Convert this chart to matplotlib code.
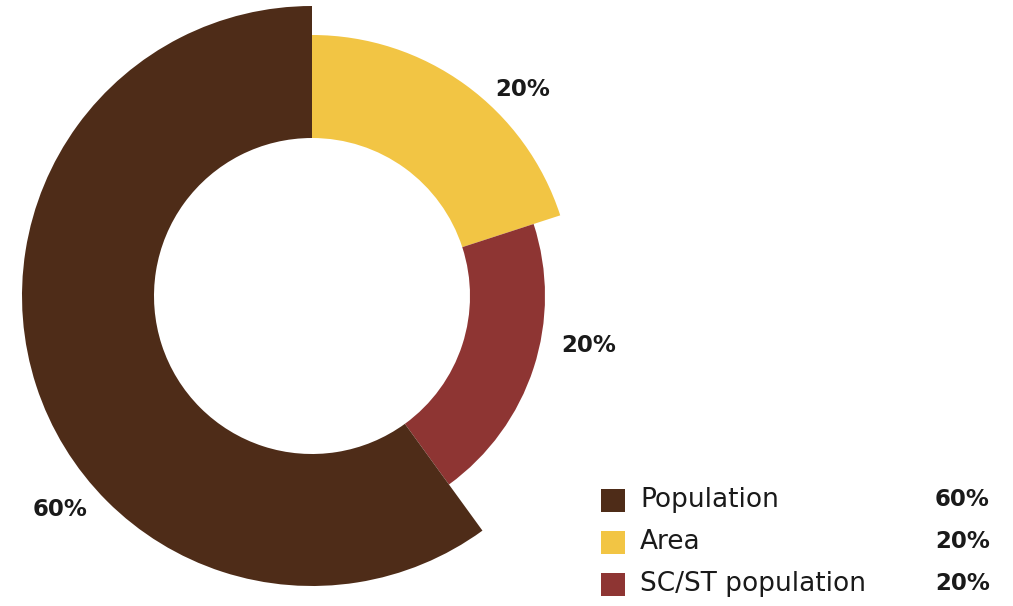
import matplotlib.pyplot as plt
from matplotlib.patches import Rectangle

plt.rcParams['font.family'] = ['DejaVu Sans']

labels = ['Area', 'SC/ST population', 'Population']
shares = [20, 20, 60]
colors = ['#F2C544', '#8E3533', '#4E2C18']
outer_r = [261, 233, 290]
inner_r = 158

legend_order = ['Population', 'Area', 'SC/ST population']

fig = plt.figure(figsize=(10.13, 6.06), dpi=100)
ax = fig.add_axes([0, 0, 1, 1])

cx, cy = 312, 606 - 296
wedges, _ = ax.pie(shares, colors=colors, center=(cx, cy), radius=max(outer_r),
                   startangle=90, counterclock=False,
                   wedgeprops=dict(linewidth=0))
# each slice gets its own outer radius, all share the same hole
for w, r in zip(wedges, outer_r):
    w.set_radius(r)
    w.set_width(r - inner_r)

ax.set_xlim(0, 1013)
ax.set_ylim(0, 606)
ax.set_aspect('equal')
ax.axis('off')

# value labels around the ring
label_pos = {'Area': (523, 90), 'SC/ST population': (589, 345), 'Population': (60, 510)}
for lab, val in zip(labels, shares):
    x, y = label_pos[lab]
    ax.text(x, 606 - y, f'{val}%', ha='center', va='center', fontsize=16.5,
            fontweight='bold', color='#1a1a1a')

# legend with values on the right
for i, lab in enumerate(legend_order):
    k = labels.index(lab)
    y = 500 + i * 42
    ax.add_patch(Rectangle((601, 606 - y - 11.5), 24, 23, color=colors[k], lw=0))
    ax.text(640, 606 - y, lab, ha='left', va='center', fontsize=19, color='#1a1a1a')
    ax.text(990, 606 - y, f'{shares[k]}%', ha='right', va='center', fontsize=16.5,
            fontweight='bold', color='#1a1a1a')

fig.savefig('out.png', dpi=100)
